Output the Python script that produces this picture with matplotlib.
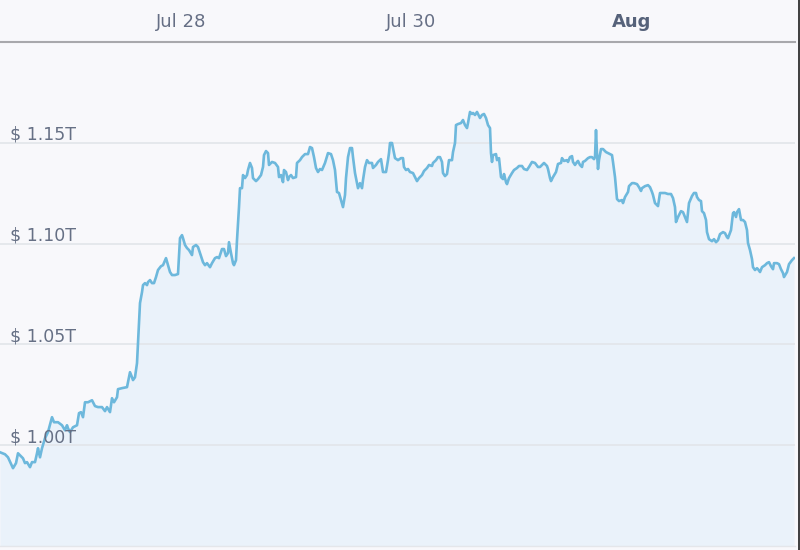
import matplotlib
matplotlib.use("Agg")
import matplotlib.pyplot as plt
from matplotlib.transforms import blended_transform_factory, ScaledTranslation
from matplotlib.lines import Line2D
import numpy as np

# time (minutes from the start of the visible window) and market cap (billions USD)
minutes = [
    0, 62.5, 100, 162.5, 200, 225, 262.5, 287.5, 312.5, 337.5,
    375, 400, 437.5, 462.5, 475, 500, 525, 562.5, 600, 650,
    675, 725, 775, 812.5, 837.5, 850, 875, 912.5, 962.5, 987.5,
    1012.5, 1037.5, 1062.5, 1100, 1150, 1187.5, 1225, 1275, 1312.5, 1337.5,
    1375, 1400, 1425, 1462.5, 1475, 1525, 1587.5, 1625, 1650, 1662.5,
    1687.5, 1712.5, 1725, 1750, 1775, 1787.5, 1812.5, 1837.5, 1850, 1875,
    1900, 1925, 1950, 1975, 2012.5, 2037.5, 2075, 2100, 2125, 2150,
    2187.5, 2225, 2250, 2275, 2287.5, 2312.5, 2337.5, 2362.5, 2400, 2412.5,
    2450, 2475, 2500, 2537.5, 2562.5, 2587.5, 2625, 2650, 2687.5, 2712.5,
    2737.5, 2775, 2800, 2825, 2850, 2862.5, 2887.5, 2912.5, 2925, 2950,
    2962.5, 2987.5, 3000, 3025, 3037.5, 3062.5, 3087.5, 3100, 3125, 3150,
    3162.5, 3200, 3225, 3262.5, 3287.5, 3300, 3325, 3350, 3362.5, 3400,
    3437.5, 3475, 3487.5, 3512.5, 3537.5, 3550, 3575, 3600, 3612.5, 3637.5,
    3662.5, 3700, 3712.5, 3750, 3775, 3812.5, 3850, 3875, 3900, 3925,
    3950, 3975, 4000, 4025, 4062.5, 4100, 4137.5, 4162.5, 4187.5, 4212.5,
    4237.5, 4262.5, 4287.5, 4312.5, 4325, 4350, 4375, 4400, 4412.5, 4437.5,
    4475, 4500, 4525, 4537.5, 4562.5, 4587.5, 4612.5, 4650, 4662.5, 4700,
    4725, 4762.5, 4787.5, 4825, 4850, 4862.5, 4875, 4900, 4912.5, 4937.5,
    4975, 5012.5, 5037.5, 5050, 5075, 5100, 5125, 5162.5, 5187.5, 5212.5,
    5237.5, 5275, 5300, 5337.5, 5362.5, 5400, 5412.5, 5450, 5475, 5500,
    5525, 5537.5, 5562.5, 5587.5, 5612.5, 5650, 5662.5, 5687.5, 5700, 5725,
    5762.5, 5787.5, 5812.5, 5837.5, 5850, 5875, 5900, 5912.5, 5937.5, 5962.5,
    5975, 6000, 6025, 6050, 6075, 6100, 6125, 6137.5, 6150, 6162.5,
    6200, 6212.5, 6237.5, 6262.5, 6287.5, 6300, 6325, 6337.5, 6362.5, 6400,
    6425, 6462.5, 6487.5, 6525, 6550, 6587.5, 6612.5, 6650, 6687.5, 6725,
    6750, 6775, 6800, 6837.5, 6850, 6875, 6887.5, 6912.5, 6950, 6975,
    7012.5, 7025, 7050, 7087.5, 7100, 7125, 7150, 7162.5, 7187.5, 7212.5,
    7225, 7250, 7275, 7287.5, 7312.5, 7350, 7375, 7400, 7425, 7437.5,
    7450, 7462.5, 7475, 7487.5, 7512.5, 7537.5, 7575, 7600, 7625, 7650,
    7662.5, 7687.5, 7712.5, 7737.5, 7775, 7787.5, 7812.5, 7850, 7862.5, 7900,
    7925, 7962.5, 7987.5, 8012.5, 8025, 8062.5, 8100, 8125, 8150, 8162.5,
    8187.5, 8225, 8250, 8275, 8312.5, 8350, 8387.5, 8412.5, 8437.5, 8450,
    8475, 8512.5, 8537.5, 8562.5, 8587.5, 8612.5, 8650, 8675, 8700, 8712.5,
    8737.5, 8762.5, 8775, 8800, 8825, 8837.5, 8862.5, 8900, 8925, 8950,
    8975, 9000, 9037.5, 9062.5, 9087.5, 9100, 9137.5, 9162.5, 9175, 9200,
    9212.5, 9237.5, 9262.5, 9287.5, 9312.5, 9337.5, 9350, 9375, 9400, 9412.5,
    9437.5, 9462.5, 9475, 9500, 9525, 9562.5, 9587.5, 9612.5, 9637.5, 9662.5,
    9675, 9712.5, 9737.5, 9762.5, 9787.5, 9800, 9837.5, 9862.5, 9900, 9925,
]

cap_bn = [
    996.5, 995.5, 994.0, 988.6, 991.1, 996.0, 994.5, 993.5, 991.1, 991.6,
    989.1, 991.6, 991.6, 996.0, 998.5, 994.0, 998.5, 1003.5, 1006.5, 1013.9,
    1011.4, 1011.4, 1009.9, 1007.4, 1009.9, 1008.4, 1006.5, 1008.9, 1009.9, 1015.9,
    1016.4, 1013.9, 1021.3, 1021.3, 1022.3, 1019.4, 1018.9, 1018.9, 1016.9, 1018.9,
    1016.4, 1023.3, 1021.3, 1023.8, 1027.8, 1028.3, 1028.8, 1036.2, 1033.7, 1032.3,
    1033.7, 1040.7, 1050.6, 1070.5, 1075.9, 1079.4, 1080.4, 1079.4, 1080.9, 1081.9,
    1080.4, 1080.4, 1083.4, 1086.9, 1088.8, 1089.3, 1092.8, 1089.3, 1085.9, 1084.4,
    1084.4, 1084.9, 1102.7, 1104.2, 1102.7, 1099.3, 1097.8, 1096.8, 1094.3, 1098.3,
    1099.3, 1098.3, 1095.3, 1090.8, 1089.3, 1090.3, 1088.3, 1090.3, 1092.8, 1093.3,
    1092.8, 1097.3, 1097.3, 1093.8, 1095.3, 1100.7, 1095.3, 1090.3, 1089.3, 1091.8,
    1101.7, 1118.1, 1127.5, 1127.5, 1134.0, 1132.5, 1134.0, 1136.5, 1140.0, 1137.5,
    1132.5, 1131.0, 1132.0, 1134.0, 1138.0, 1143.9, 1145.9, 1144.9, 1139.0, 1140.5,
    1140.0, 1138.0, 1133.0, 1134.0, 1130.5, 1136.5, 1135.5, 1131.5, 1133.0, 1134.0,
    1132.5, 1133.0, 1140.0, 1141.4, 1142.9, 1144.4, 1144.4, 1147.9, 1147.4, 1142.9,
    1137.5, 1135.5, 1137.0, 1136.5, 1140.0, 1144.9, 1144.4, 1141.4, 1136.5, 1125.6,
    1125.1, 1121.6, 1118.1, 1124.1, 1132.5, 1142.9, 1147.4, 1147.4, 1142.9, 1135.0,
    1127.5, 1130.0, 1127.5, 1131.5, 1138.0, 1141.4, 1140.0, 1140.0, 1137.5, 1139.0,
    1140.5, 1141.9, 1135.5, 1135.5, 1141.4, 1144.9, 1149.9, 1149.9, 1147.4, 1142.4,
    1141.4, 1142.4, 1142.4, 1138.0, 1136.5, 1137.0, 1135.5, 1135.0, 1133.0, 1131.0,
    1132.5, 1134.0, 1136.0, 1137.5, 1139.0, 1138.5, 1140.0, 1141.4, 1142.9, 1142.9,
    1140.5, 1135.0, 1133.5, 1134.5, 1141.4, 1141.4, 1145.4, 1149.9, 1158.8, 1159.3,
    1159.8, 1161.3, 1158.8, 1157.3, 1159.8, 1165.3, 1164.3, 1164.8, 1163.8, 1165.3,
    1164.3, 1162.3, 1163.8, 1164.3, 1162.3, 1158.8, 1157.3, 1144.9, 1140.5, 1143.9,
    1144.4, 1141.4, 1142.4, 1133.0, 1132.0, 1134.5, 1130.5, 1129.5, 1132.5, 1135.0,
    1136.5, 1137.5, 1138.5, 1138.5, 1137.0, 1136.5, 1138.0, 1140.5, 1140.0, 1138.0,
    1138.0, 1139.0, 1140.0, 1138.5, 1137.0, 1132.5, 1131.0, 1133.0, 1135.5, 1139.5,
    1140.0, 1142.4, 1141.0, 1141.4, 1140.5, 1142.9, 1143.4, 1140.5, 1139.0, 1140.5,
    1141.0, 1139.0, 1138.0, 1140.5, 1141.0, 1142.4, 1142.9, 1142.9, 1141.9, 1142.9,
    1156.3, 1144.9, 1137.0, 1141.4, 1146.9, 1146.9, 1145.4, 1144.9, 1144.4, 1143.9,
    1140.5, 1133.0, 1122.1, 1121.1, 1121.6, 1120.1, 1123.1, 1125.6, 1128.5, 1130.0,
    1130.0, 1129.5, 1128.0, 1126.1, 1127.5, 1128.5, 1129.0, 1128.0, 1125.6, 1124.1,
    1120.1, 1118.6, 1125.1, 1125.1, 1125.1, 1124.6, 1124.6, 1122.6, 1118.1, 1110.7,
    1113.2, 1116.1, 1115.6, 1113.2, 1110.7, 1120.1, 1123.6, 1125.1, 1125.1, 1123.1,
    1121.6, 1121.1, 1116.1, 1115.1, 1111.7, 1105.7, 1102.2, 1101.2, 1102.2, 1100.7,
    1101.7, 1104.7, 1105.7, 1105.2, 1103.2, 1102.7, 1106.7, 1115.1, 1115.6, 1113.2,
    1115.6, 1117.1, 1111.7, 1111.7, 1110.7, 1106.7, 1100.3, 1096.8, 1092.3, 1088.3,
    1086.9, 1087.8, 1087.3, 1085.9, 1088.3, 1089.3, 1090.3, 1090.8, 1088.8, 1087.3,
    1090.3, 1090.3, 1089.8, 1087.3, 1085.4, 1083.4, 1085.9, 1089.8, 1091.8, 1092.8,
]

ytick_vals = [1.00, 1.05, 1.10, 1.15]
ytick_labels = ["$ 1.00T", "$ 1.05T", "$ 1.10T", "$ 1.15T"]
xtick_pos = [2262.5, 5137.5, 7900]
xtick_labels = ["Jul 28", "Jul 30", "Aug"]

t = np.array(minutes)
v = np.array(cap_bn) / 1000.0

BG = "#f8f8fb"
fig = plt.figure(figsize=(8, 5.5), dpi=100, facecolor=BG)
ax = fig.add_axes([0, 4 / 550, 795 / 800, 504 / 550])
ax.set_facecolor(BG)
ax.set_xlim(0, 9937.5)
ax.set_ylim(0.95, 1.20)

ax.fill_between(t, v, 0.95, color="#eaf2fa", lw=0, zorder=1)
for yv in ytick_vals:
    ax.axhline(yv, color="#e2e5ea", lw=1.2, zorder=2)
ax.plot(t, v, color="#6db8dc", lw=1.9, solid_joinstyle="round", zorder=3)

trans = blended_transform_factory(ax.transAxes, ax.transData) + ScaledTranslation(0, 3 / 100, fig.dpi_scale_trans)
for yv, lab in zip(ytick_vals, ytick_labels):
    ax.text(10 / 795, yv, lab, transform=trans, ha="left", va="baseline",
            fontsize=12.5, color="#667085", zorder=5)

ax.set_yticks([])
ax.xaxis.tick_top()
ax.set_xticks(xtick_pos)
ax.set_xticklabels(xtick_labels)
ax.tick_params(axis="x", length=0, pad=8, labelsize=13, labelcolor="#666f85")
for lbl in ax.get_xticklabels():
    if lbl.get_text() == "Aug":
        lbl.set_fontweight("bold")
        lbl.set_color("#56627a")

for side in ["left", "right"]:
    ax.spines[side].set_visible(False)
ax.spines["top"].set_color("#a8a8ac")
ax.spines["top"].set_linewidth(1.5)
ax.spines["bottom"].set_color("#e4e6ea")
ax.spines["bottom"].set_linewidth(1.0)

fig.add_artist(Line2D([798.8 / 800, 798.8 / 800], [0, 1], transform=fig.transFigure,
                      color="#1e1e1e", lw=1.2))

fig.savefig("out.png", dpi=100, facecolor=BG)
